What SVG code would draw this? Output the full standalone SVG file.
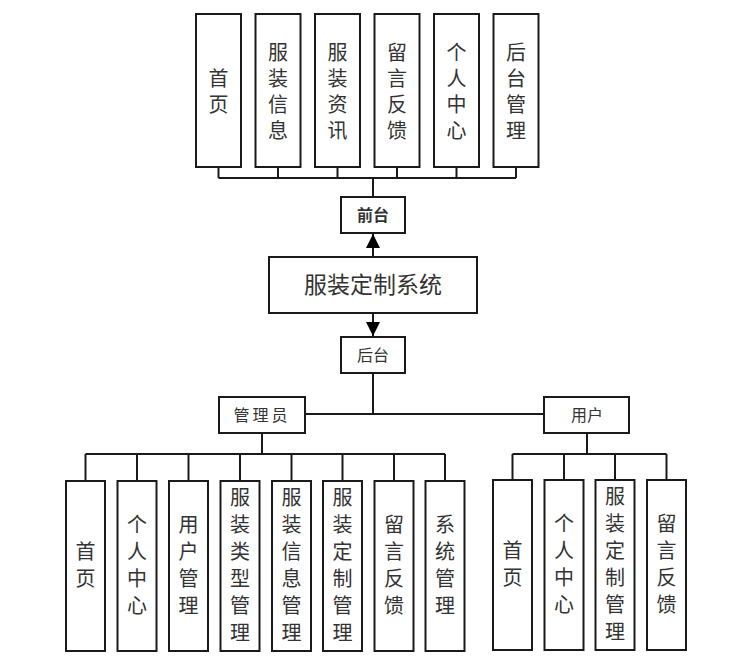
<svg xmlns="http://www.w3.org/2000/svg" width="739" height="656" viewBox="0 0 739 656">
<style>
.box{fill:#fff;stroke:#1a1a1a;stroke-width:2}
.ln{fill:none;stroke:#1a1a1a;stroke-width:2}
text{font-family:"Noto Sans CJK SC","Noto Sans",sans-serif;fill:#333;text-anchor:middle}
.v{font-size:20px;writing-mode:vertical-rl;letter-spacing:6px}
.vb{font-size:20px;writing-mode:vertical-rl;letter-spacing:7px}
.h{font-size:16px}
</style>
<defs>
<marker id="arr" viewBox="0 0 14 14" refX="14" refY="7" markerWidth="14" markerHeight="14" markerUnits="userSpaceOnUse" orient="auto"><path d="M0,0L14,7L0,14z" fill="#000"/></marker>
</defs>
<g id="connectors">
<path class="ln" d="M218.5,167V178M278,167V178M337.5,167V178M397,167V178M456.5,167V178M516,167V178M218.5,178H516M373,178V197"/>
<path class="ln" d="M373,257V234" marker-end="url(#arr)"/>
<path class="ln" d="M373,313V336" marker-end="url(#arr)"/>
<path class="ln" d="M373,373V414M305,414H544"/>
<path class="ln" d="M262,433V454M85.5,454H445M85.5,454V481M137,454V481M188.5,454V481M240,454V481M291.5,454V481M342.5,454V481M394,454V481M445,454V481"/>
<path class="ln" d="M587,433V454M512.5,454H666.5M512.5,454V480M564,454V480M615,454V480M666.5,454V480"/>
</g>
<g id="n-home"><rect class="box" x="196" y="14" width="45" height="153"/><text class="v" x="218.5" y="94">首页</text></g>
<g id="n-info"><rect class="box" x="255.5" y="14" width="45" height="153"/><text class="v" x="278" y="94.5">服装信息</text></g>
<g id="n-news"><rect class="box" x="315" y="14" width="45" height="153"/><text class="v" x="337.5" y="94.5">服装资讯</text></g>
<g id="n-msg"><rect class="box" x="374.5" y="14" width="45" height="153"/><text class="v" x="397" y="94.5">留言反馈</text></g>
<g id="n-center"><rect class="box" x="434" y="14" width="45" height="153"/><text class="v" x="456.5" y="94.5">个人中心</text></g>
<g id="n-admin"><rect class="box" x="493.5" y="14" width="45" height="153"/><text class="v" x="516" y="94.5">后台管理</text></g>
<g id="n-front"><rect class="box" x="341" y="197" width="64" height="36"/><text class="h" x="373" y="221" font-weight="bold" fill="#000">前台</text></g>
<g id="n-system"><rect class="box" x="269" y="257" width="208" height="56"/><text x="373" y="293" font-size="23">服装定制系统</text></g>
<g id="n-back"><rect class="box" x="341" y="337" width="64" height="36"/><text class="h" x="373" y="361">后台</text></g>
<g id="n-manager"><rect class="box" x="219" y="397" width="86" height="36"/><text class="h" x="262" y="421" letter-spacing="3">管理员</text></g>
<g id="n-user"><rect class="box" x="544" y="397" width="85" height="36"/><text class="h" x="587" y="421">用户</text></g>
<g id="a-home"><rect class="box" x="66" y="481" width="39" height="170"/><text class="vb" x="85.5" y="568">首页</text></g>
<g id="a-center"><rect class="box" x="117.5" y="481" width="39" height="170"/><text class="vb" x="137" y="568">个人中心</text></g>
<g id="a-user"><rect class="box" x="169" y="481" width="39" height="170"/><text class="vb" x="188.5" y="568">用户管理</text></g>
<g id="a-type"><rect class="box" x="220.5" y="481" width="39" height="170"/><text class="vb" x="240" y="568">服装类型管理</text></g>
<g id="a-info"><rect class="box" x="272" y="481" width="39" height="170"/><text class="vb" x="291.5" y="568">服装信息管理</text></g>
<g id="a-custom"><rect class="box" x="323" y="481" width="39" height="170"/><text class="vb" x="342.5" y="568">服装定制管理</text></g>
<g id="a-msg"><rect class="box" x="374.5" y="481" width="39" height="170"/><text class="vb" x="394" y="568">留言反馈</text></g>
<g id="a-sys"><rect class="box" x="425.5" y="481" width="39" height="170"/><text class="vb" x="445" y="568">系统管理</text></g>
<g id="u-home"><rect class="box" x="493" y="480" width="39" height="170"/><text class="vb" x="512.5" y="567">首页</text></g>
<g id="u-center"><rect class="box" x="544.5" y="480" width="39" height="170"/><text class="vb" x="564" y="567">个人中心</text></g>
<g id="u-custom"><rect class="box" x="595.5" y="480" width="39" height="170"/><text class="vb" x="615" y="567">服装定制管理</text></g>
<g id="u-msg"><rect class="box" x="647" y="480" width="39" height="170"/><text class="vb" x="666.5" y="567">留言反馈</text></g>
</svg>
